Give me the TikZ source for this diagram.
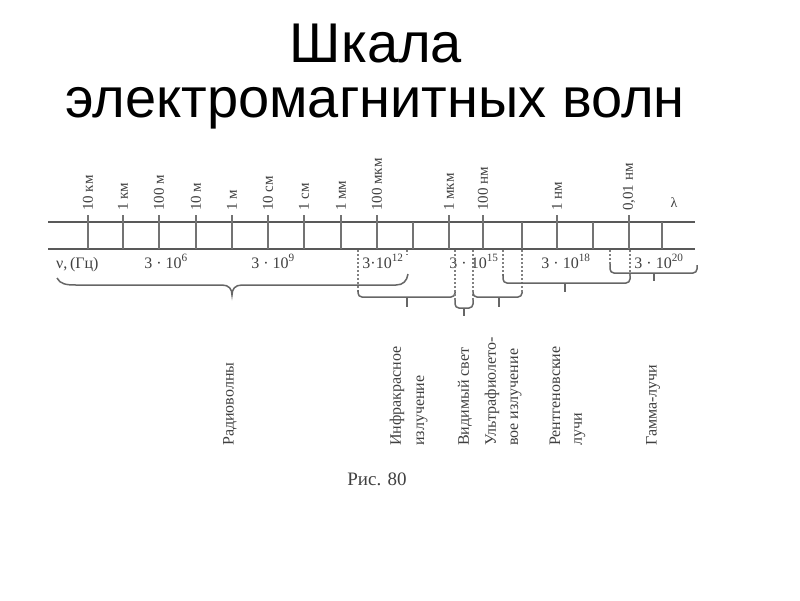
\documentclass[tikz,border=0pt]{standalone}
\usepackage{fontspec}
\setmainfont{Liberation Serif}
\newfontfamily\titlefont{Liberation Sans}
\begin{document}
\begin{tikzpicture}[x=1pt,y=-1pt,
  ax/.style={line width=1.6pt, draw=black!65},
  tk/.style={line width=1.6pt, draw=black!55},
  br/.style={line width=1.5pt, draw=black!60, rounded corners=4pt},
  dt/.style={line width=1.3pt, draw=black!50, dash pattern=on 2pt off 2pt},
  wl/.style={rotate=90, anchor=west, inner sep=0pt, font=\fontsize{15}{18}\selectfont, text=black!75},
  fr/.style={anchor=base, inner sep=0pt, font=\fontsize{16}{18}\selectfont, text=black!75},
  vl/.style={rotate=90, anchor=west, inner sep=0pt, font=\fontsize{16}{18}\selectfont, text=black!75},
  ttl/.style={anchor=base, inner sep=0pt, font=\titlefont\fontsize{56}{60}\selectfont, text=black}
]
\fill[white] (0,0) rectangle (800,600);
\useasboundingbox (0,0) rectangle (800,600);

% title
\node[ttl] (t1) at (376,62) {Шкала};
\node[ttl] (t2) at (375,117) {электромагнитных волн};

% axis lines
\draw[ax] (48,222) -- (695,222);
\draw[ax] (48,249) -- (695,249);

% labelled ticks
\foreach \x/\lab [count=\i] in {88/{10 км},123/{1 км},159/{100 м},196/{10 м},232/{1 м},268/{10 см},304/{1 см},341/{1 мм},377/{100 мкм},449/{1 мкм},483/{100 нм},557/{1 нм},629/{0,01 нм}}{
  \draw[tk] (\x,215) -- (\x,249);
  \node[wl] (w\i) at (\x,211) {\lab};
}
% unlabelled ticks
\foreach \x in {413,522,593,662}{
  \draw[tk] (\x,222) -- (\x,249);
}
\node[inner sep=0pt, font=\fontsize{14}{16}\selectfont, text=black!75] (lam) at (674,203) {λ};

% frequency row
\node[fr, anchor=base west] (nu) at (56,268) {ν,\,(Гц)};
\node[fr] (f6) at (166,268) {3 · 10\textsuperscript{6}};
\node[fr] (f9) at (273,268) {3 · 10\textsuperscript{9}};
\node[fr] (f12) at (383,268) {3·10\textsuperscript{12}};
\node[fr] (f15) at (474,268) {3 · 10\textsuperscript{15}};
\node[fr] (f18) at (566,268) {3 · 10\textsuperscript{18}};
\node[fr] (f20) at (659,268) {3 · 10\textsuperscript{20}};

% radio brace
\draw[br, rounded corners=0] (57,278) .. controls (60,284) and (66,285) .. (76,285) -- (222,285)
  .. controls (229,285) and (232,289) .. (232,295)
  .. controls (232,289) and (235,285) .. (242,285) -- (396,285)
  .. controls (403,285) and (407,281) .. (408,274);
\draw[dt] (407,250) -- (407,255);

% infrared bracket
\draw[dt] (358,250) -- (358,292);
\draw[br] (358,290) -- (358,297) -- (455,297) -- (455,290);
\draw[br] (407,297) -- (407,307);
% visible
\draw[dt] (455,250) -- (455,300);
\draw[br] (455,300) -- (455,308) -- (473,308) -- (473,300);
\draw[br] (464,308) -- (464,316);
% ultraviolet
\draw[dt] (473,250) -- (473,300);
\draw[br] (473,292) -- (473,297) -- (522,297) -- (522,290);
\draw[dt] (522,250) -- (522,292);
\draw[br] (499,297) -- (499,307);
% x-rays
\draw[dt] (503,250) -- (503,276);
\draw[br] (503,274) -- (503,283) -- (630,283) -- (630,274);
\draw[dt] (630,250) -- (630,276);
\draw[br] (565,283) -- (565,292);
% gamma
\draw[dt] (610,250) -- (610,266);
\draw[br] (610,264) -- (610,273) -- (697,273) -- (697,265);
\draw[br] (654,273) -- (654,281);

% band names
\node[vl] (rad) at (230,446) {Радиоволны};
\node[vl] (ir1) at (397,446) {Инфракрасное};
\node[vl] (ir2) at (422,446) {излучение};
\node[vl] (vis) at (465,446) {Видимый свет};
\node[vl] (uv1) at (492,446) {Ультрафиолето-};
\node[vl] (uv2) at (516,446) {вое излучение};
\node[vl] (xr1) at (555,446) {Рентгеновские};
\node[vl] (xr2) at (580,446) {лучи};
\node[vl] (gam) at (653,446) {Гамма-лучи};

\node[inner sep=0pt, font=\fontsize{19}{22}\selectfont, text=black!75] (fig) at (377,479) {Рис. 80};
\end{tikzpicture}
\end{document}
